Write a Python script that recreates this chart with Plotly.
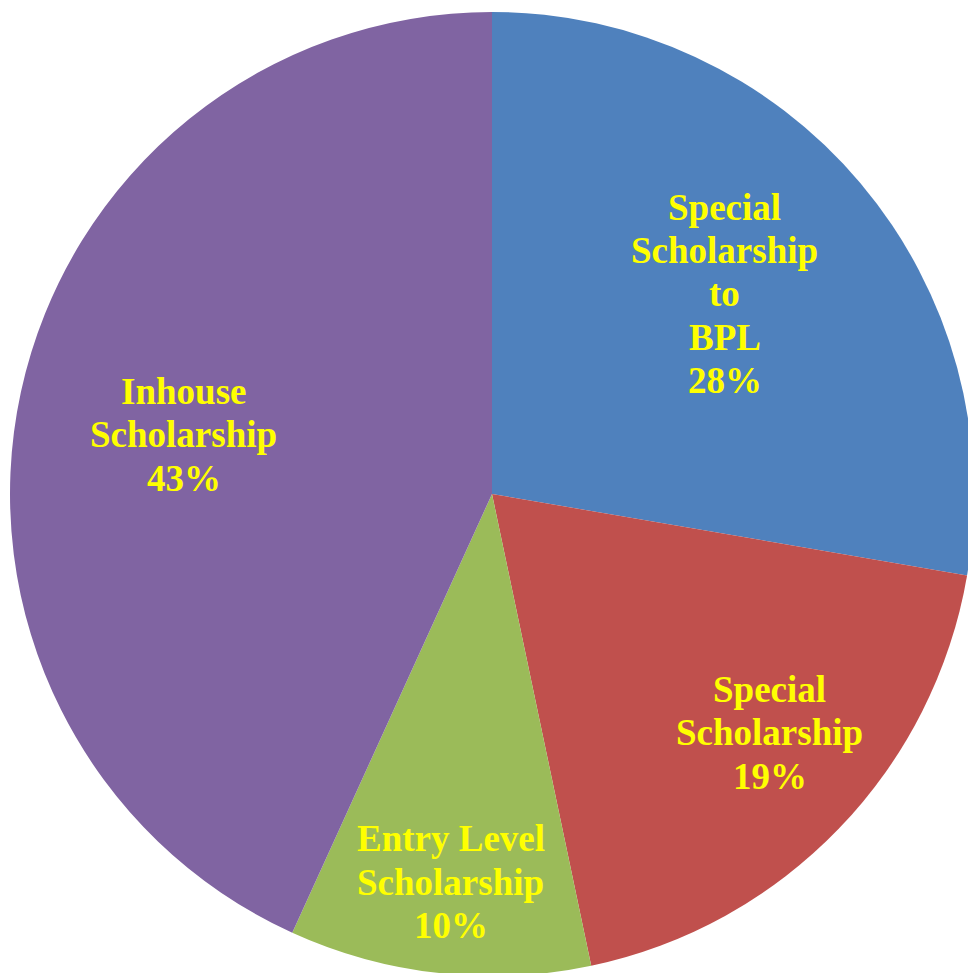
import math
import plotly.graph_objects as go

labels = ["Special Scholarship to BPL", "Special Scholarship",
          "Entry Level Scholarship", "Inhouse Scholarship"]
label_lines = [["Special", "Scholarship", "to", "BPL"],
               ["Special", "Scholarship"],
               ["Entry Level", "Scholarship"],
               ["Inhouse", "Scholarship"]]
values = [27.7, 19.0, 10.1, 43.2]
colors = ["#4F81BD", "#C0504D", "#9BBB59", "#8064A2"]

# label placement (fraction of radius, angle tweak in degrees)
label_r = [0.637, 0.76, 0.81, 0.651]
label_dtheta = [-0.55, -3.2, -0.2, -1.4]

# page body has an 8px margin, so margins are trimmed to compensate
W, H = 976, 973
ml, mr, mt, mb = 2, 10, 4, 5
pw, ph = W - ml - mr, H - mt - mb
R = min(pw, ph) / 2
pitch = 43.3

fig = go.Figure(go.Pie(
    labels=labels, values=values, sort=False, direction="clockwise",
    marker=dict(colors=colors, line=dict(width=0)),
    textinfo="none", hoverinfo="label+percent", showlegend=False,
))

total = sum(values)
cum = 0
annotations = []
for i, v in enumerate(values):
    mid = (cum + v / 2) / total * 360 + label_dtheta[i]
    cum += v
    th = math.radians(mid)
    x = 0.5 + label_r[i] * R * math.sin(th) / pw
    y = 0.5 + label_r[i] * R * math.cos(th) / ph
    lines = label_lines[i] + [f"{round(v / total * 100)}%"]
    n = len(lines)
    for j, t in enumerate(lines):
        annotations.append(dict(
            x=x, y=y, xref="paper", yref="paper", text=f"<b>{t}</b>",
            showarrow=False, xanchor="center", yanchor="middle",
            yshift=((n - 1) / 2 - j) * pitch,
            font=dict(family="Liberation Serif", size=37, color="#FFFF00"),
        ))

fig.update_layout(
    width=W, height=H,
    margin=dict(l=ml, r=mr, t=mt, b=mb),
    paper_bgcolor="white", plot_bgcolor="white",
    annotations=annotations,
)

fig.write_html("out.html")
